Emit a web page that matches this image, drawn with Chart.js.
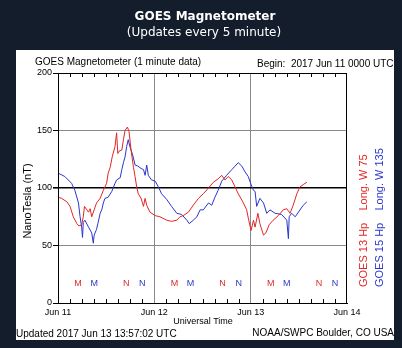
<!DOCTYPE html>
<html>
<head>
<meta charset="utf-8">
<script src="https://cdn.jsdelivr.net/npm/chart.js@4.4.0/dist/chart.umd.min.js"></script>
<style>
  html, body { margin: 0; padding: 0; background: #141d2c; }
  canvas { display: block; }
</style>
</head>
<body>
<canvas id="magChart" width="402" height="348"></canvas>
<script>
// Data (hours since 2017 Jun 11 00:00 UTC, nT)
const dayLabels = ["Jun 11", "Jun 12", "Jun 13", "Jun 14"];
const yTicks = [0, 50, 100, 150, 200];

const g13Hours = [0, 0.9, 2.2, 3.0, 3.8, 4.7, 5.2, 5.9, 6.3, 6.6, 7.2, 7.6, 8.0, 8.4, 9.0, 9.6,
  10.5, 11.3, 12.1, 12.5, 13.0, 13.5, 14.2, 14.6, 14.9, 15.2, 15.9, 16.3, 16.7, 17.3, 17.7,
  18.2, 18.8, 19.2, 19.6, 20.0, 20.7, 21.3, 21.7, 22.1, 22.9, 24.2, 25.4, 27.1, 28.3, 29.6,
  30.4, 31.2, 32.5, 33.7, 35.0, 36.2, 37.5, 38.7, 39.9, 40.8, 41.6, 42.4, 43.3, 44.1, 44.9,
  46.2, 47.0, 47.4, 48.1, 48.7, 49.1, 49.8, 50.3, 51.2, 51.8, 52.6, 53.6, 54.9, 56.1, 57.0,
  57.8, 58.6, 59.5, 60.3, 61.1, 62.0];
const g13Values = [92, 91, 88, 84, 75, 69, 67, 68, 75, 84, 81, 79, 82, 75, 81, 87,
  91, 98, 104, 113, 118, 127, 136, 148, 130, 132, 133, 142, 150, 153, 149,
  133, 118, 110, 101, 95, 91, 84, 91, 85, 79, 76, 75, 72, 71, 72,
  75, 76, 79, 85, 91, 95, 100, 105, 108, 111, 107, 110, 107, 101, 95,
  87, 81, 74, 63, 72, 66, 78, 69, 59, 61, 68, 72, 76, 81, 82,
  78, 85, 95, 101, 103, 105];

const g15Hours = [0, 1.7, 3.4, 4.2, 5.1, 5.5, 5.9, 6.1, 6.3, 6.7, 7.6, 8.4, 8.8, 9.0, 9.6,
  10.0, 10.5, 10.9, 11.3, 11.7, 12.5, 13.4, 14.2, 14.6, 15.5, 15.9, 16.3, 16.7, 17.1, 17.5,
  17.9, 18.5, 18.8, 19.2, 19.9, 20.7, 21.3, 21.7, 22.1, 22.5, 23.3, 24.2, 25.0, 25.8, 27.1,
  28.3, 29.6, 30.8, 32.1, 32.7, 33.7, 34.6, 35.4, 36.2, 37.5, 38.3, 39.1, 39.9, 40.8, 42.0,
  43.3, 44.1, 44.9, 45.8, 46.6, 47.4, 48.3, 48.7, 49.1, 49.5, 50.3, 51.2, 52.0, 52.8, 54.1,
  55.7, 57.0, 57.4, 57.6, 58.2, 59.1, 59.9, 61.1, 62.0];
const g15Values = [113, 110, 104, 98, 87, 75, 66, 57, 70, 72, 66, 61, 52, 59, 64,
  70, 78, 81, 87, 91, 92, 97, 104, 107, 109, 116, 122, 127, 136, 142,
  136, 130, 126, 120, 119, 117, 116, 111, 120, 111, 107, 106, 101, 95, 90,
  84, 78, 77, 72, 69, 72, 75, 81, 81, 87, 85, 92, 98, 106, 111,
  116, 119, 122, 119, 114, 110, 101, 98, 97, 84, 91, 87, 78, 81, 78,
  77, 72, 56, 75, 78, 75, 79, 85, 88];

// local midnight (M) / noon (N) markers
const g13MarkHours = [5, 17, 29, 41, 53, 65];
const g15MarkHours = [9, 21, 33, 45, 57, 69];
const markText = ["M", "N", "M", "N", "M", "N"];
const markLevel = 17;

const RED = "#e32626";
const BLUE = "#2a36cc";
const FONT = "Liberation Sans";

function toPoints(xs, ys) {
  return xs.map((x, i) => ({ x: x, y: ys[i] }));
}

const decorations = {
  id: "decorations",
  beforeDraw(chart) {
    const ctx = chart.ctx;
    ctx.save();
    ctx.fillStyle = "#141d2c";
    ctx.fillRect(0, 0, chart.width, chart.height);
    ctx.fillStyle = "#ffffff";
    ctx.fillRect(16, 50, 378, 290);

    ctx.textAlign = "center";
    ctx.textBaseline = "middle";
    ctx.fillStyle = "#ffffff";
    ctx.font = "bold 12px 'DejaVu Sans'";
    ctx.fillText("GOES Magnetometer", 205, 17);
    ctx.font = "12px 'DejaVu Sans'";
    ctx.fillText("(Updates every 5 minute)", 204, 33);
    ctx.restore();
  },
  afterDraw(chart) {
    const ctx = chart.ctx;
    const a = chart.chartArea;
    const xs = chart.scales.x;
    const ys = chart.scales.y;
    ctx.save();

    // frame
    ctx.strokeStyle = "#000";
    ctx.lineWidth = 1;
    ctx.strokeRect(a.left + 0.5, a.top + 0.5, a.right - a.left - 1, a.bottom - a.top);

    // minor ticks every 3 hours, inside top and bottom
    ctx.beginPath();
    for (let h = 3; h < 72; h += 3) {
      if (h % 24 === 0) continue;
      const px = Math.round(xs.getPixelForValue(h)) + 0.5;
      ctx.moveTo(px, a.top);
      ctx.lineTo(px, a.top + 4);
      ctx.moveTo(px, a.bottom);
      ctx.lineTo(px, a.bottom - 4);
    }
    ctx.stroke();

    // M / N markers
    ctx.font = "9px '" + FONT + "'";
    ctx.textAlign = "center";
    ctx.textBaseline = "middle";
    const py = ys.getPixelForValue(markLevel);
    g13MarkHours.forEach((h, i) => {
      ctx.fillStyle = RED;
      ctx.fillText(markText[i], xs.getPixelForValue(h), py);
    });
    g15MarkHours.forEach((h, i) => {
      ctx.fillStyle = BLUE;
      ctx.fillText(markText[i], xs.getPixelForValue(h), py);
    });

    // header / footer texts
    ctx.fillStyle = "#000";
    ctx.font = "10px '" + FONT + "'";
    ctx.textAlign = "left";
    ctx.fillText("GOES Magnetometer (1 minute data)", 35, 62);
    ctx.fillText("Begin:  2017 Jun 11 0000 UTC", 257, 64);
    ctx.fillText("Updated 2017 Jun 13 13:57:02 UTC", 16, 334);
    ctx.textAlign = "right";
    ctx.fillText("NOAA/SWPC Boulder, CO USA", 394, 333);
    ctx.font = "9px '" + FONT + "'";
    ctx.textAlign = "center";
    ctx.fillText("Universal Time", 203, 322);

    // y axis title
    ctx.font = "11px '" + FONT + "'";
    ctx.save();
    ctx.translate(28, 201);
    ctx.rotate(-Math.PI / 2);
    ctx.fillText("NanoTesla (nT)", 0, 0);
    ctx.restore();

    // series labels on the right
    ctx.textAlign = "left";
    ctx.save();
    ctx.translate(364, 287);
    ctx.rotate(-Math.PI / 2);
    ctx.fillStyle = RED;
    ctx.fillText("GOES 13 Hp    Long. W 75", 0, 0);
    ctx.restore();
    ctx.save();
    ctx.translate(380, 287);
    ctx.rotate(-Math.PI / 2);
    ctx.fillStyle = BLUE;
    ctx.fillText("GOES 15 Hp    Long. W 135", 0, 0);
    ctx.restore();

    ctx.restore();
  }
};

new Chart(document.getElementById("magChart").getContext("2d"), {
  type: "line",
  data: {
    datasets: [{
      label: "GOES 13 Hp",
      data: toPoints(g13Hours, g13Values),
      borderColor: RED,
      borderWidth: 1,
      pointRadius: 0,
      tension: 0,
      fill: false
    }, {
      label: "GOES 15 Hp",
      data: toPoints(g15Hours, g15Values),
      borderColor: BLUE,
      borderWidth: 1,
      pointRadius: 0,
      tension: 0,
      fill: false
    }]
  },
  options: {
    responsive: false,
    animation: false,
    devicePixelRatio: 1,
    layout: { padding: { left: 0, top: 73, right: 55, bottom: 0 } },
    plugins: {
      legend: { display: false },
      tooltip: { enabled: false }
    },
    scales: {
      x: {
        type: "linear",
        min: 0,
        max: 72,
        afterFit: (s) => { s.height = 45; },
        afterBuildTicks: (s) => { s.ticks = [0, 24, 48, 72].map(v => ({ value: v })); },
        ticks: {
          callback: (v) => dayLabels[v / 24],
          color: "#000",
          font: { family: FONT, size: 9 },
          maxRotation: 0,
          padding: 4
        },
        grid: {
          drawTicks: false,
          color: (c) => (c.tick && (c.tick.value === 24 || c.tick.value === 48)) ? "#8a8a8a" : "rgba(0,0,0,0)",
          lineWidth: 1
        },
        border: { display: true, color: "#000" }
      },
      y: {
        min: 0,
        max: 200,
        afterFit: (s) => { s.width = 58; },
        afterBuildTicks: (s) => { s.ticks = yTicks.map(v => ({ value: v })); },
        ticks: {
          color: "#000",
          font: { family: FONT, size: 9 },
          padding: 1
        },
        grid: {
          drawTicks: true,
          tickLength: 5,
          tickColor: "#000",
          color: (c) => {
            const v = c.tick ? c.tick.value : null;
            if (v === 100) return "#000";
            if (v === 50 || v === 150) return "#8a8a8a";
            return "rgba(0,0,0,0)";
          },
          lineWidth: (c) => (c.tick && c.tick.value === 100) ? 1.6 : 1
        },
        border: { display: true, color: "#000" }
      }
    }
  },
  plugins: [decorations]
});
</script>
</body>
</html>
